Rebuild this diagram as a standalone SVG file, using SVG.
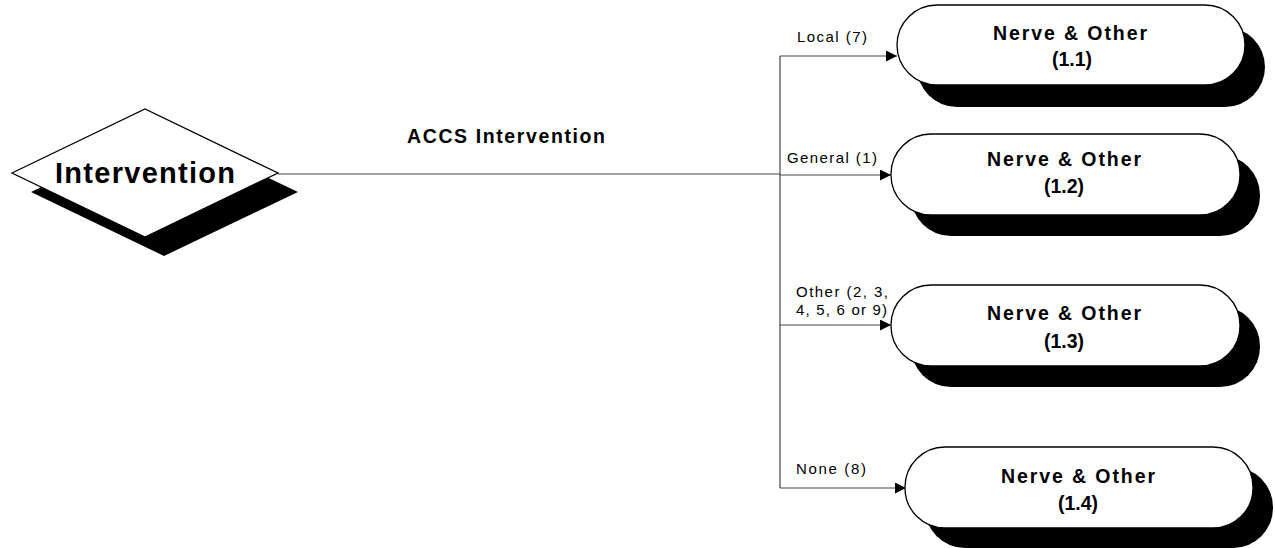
<svg xmlns="http://www.w3.org/2000/svg" width="1275" height="548" viewBox="0 0 1275 548">
<defs>
<style>
.shadow{fill:#000;stroke:none}
.shape{fill:#fff;stroke:#000;stroke-width:1.3}
.conn{fill:none;stroke:#444;stroke-width:1.2}
.nt{font-family:"Liberation Sans",Arial,sans-serif;font-weight:bold;font-size:19.5px;text-anchor:middle;fill:#000}
.lbl{font-family:"Liberation Sans",Arial,sans-serif;font-size:15px;fill:#000}
</style>
<marker id="arr" viewBox="0 0 10 10" refX="10" refY="5" markerWidth="11" markerHeight="11" markerUnits="userSpaceOnUse" orient="auto">
<path d="M0,0 L10,5 L0,10 z" fill="#000"/>
</marker>
</defs>
<rect width="1275" height="548" fill="#fff"/>
<g id="connectors">
<polyline class="conn" points="278,174 780,174"/>
<polyline class="conn" points="780,488 780,56"/>
<line class="conn" x1="780" y1="56" x2="897" y2="56" marker-end="url(#arr)"/>
<line class="conn" x1="780" y1="175" x2="891" y2="175" marker-end="url(#arr)"/>
<line class="conn" x1="780" y1="325" x2="891" y2="325" marker-end="url(#arr)"/>
<line class="conn" x1="780" y1="488" x2="906" y2="488" marker-end="url(#arr)"/>
<text class="nt" x="506" y="143" textLength="198" lengthAdjust="spacing">ACCS Intervention</text>
<text class="lbl" x="797" y="42" textLength="70" lengthAdjust="spacing">Local (7)</text>
<text class="lbl" x="787" y="163" textLength="90" lengthAdjust="spacing">General (1)</text>
<text class="lbl" x="796" y="297" textLength="92" lengthAdjust="spacing">Other (2, 3,</text>
<text class="lbl" x="796" y="315" textLength="91" lengthAdjust="spacing">4, 5, 6 or 9)</text>
<text class="lbl" x="796" y="474" textLength="70" lengthAdjust="spacing">None (8)</text>
</g>
<g id="intervention">
<polygon class="shadow" points="31,192 164,128 298,192 164,256"/>
<polygon class="shape" points="12,173 145,109 278,173 145,237"/>
<text x="145" y="183" font-family="Liberation Sans,Arial,sans-serif" font-weight="bold" font-size="29" text-anchor="middle" textLength="180" lengthAdjust="spacing">Intervention</text>
</g>
<g id="node-1-1">
<rect class="shadow" x="917" y="27" width="348" height="80" rx="40"/>
<rect class="shape" x="897" y="5" width="348" height="80" rx="40"/>
<text class="nt" x="1070" y="40" textLength="154" lengthAdjust="spacing">Nerve &amp; Other</text>
<text class="nt" x="1072" y="66" textLength="40" lengthAdjust="spacing">(1.1)</text>
</g>
<g id="node-1-2">
<rect class="shadow" x="911" y="155" width="349" height="81" rx="40"/>
<rect class="shape" x="891" y="134" width="349" height="81" rx="40"/>
<text class="nt" x="1064" y="166" textLength="154" lengthAdjust="spacing">Nerve &amp; Other</text>
<text class="nt" x="1064" y="193" textLength="40" lengthAdjust="spacing">(1.2)</text>
</g>
<g id="node-1-3">
<rect class="shadow" x="911" y="306" width="349" height="81" rx="40"/>
<rect class="shape" x="891" y="285" width="349" height="81" rx="40"/>
<text class="nt" x="1064" y="320" textLength="154" lengthAdjust="spacing">Nerve &amp; Other</text>
<text class="nt" x="1064" y="348" textLength="40" lengthAdjust="spacing">(1.3)</text>
</g>
<g id="node-1-4">
<rect class="shadow" x="925" y="467" width="348" height="81" rx="40"/>
<rect class="shape" x="905" y="447" width="348" height="81" rx="40"/>
<text class="nt" x="1078" y="483" textLength="154" lengthAdjust="spacing">Nerve &amp; Other</text>
<text class="nt" x="1078" y="510" textLength="40" lengthAdjust="spacing">(1.4)</text>
</g>
</svg>
